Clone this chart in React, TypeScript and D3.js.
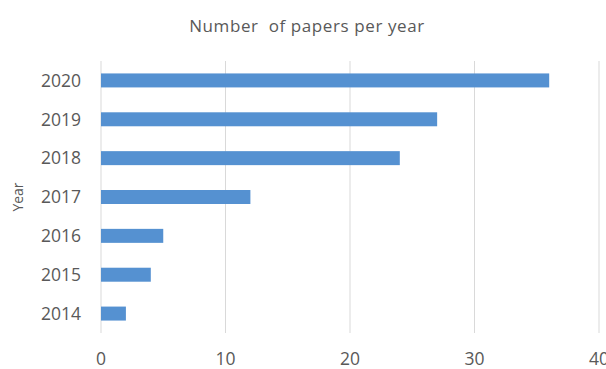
import React from "react";
import * as d3 from "d3";

const years = ["2020", "2019", "2018", "2017", "2016", "2015", "2014"];
const papers = [36, 27, 24, 12, 5, 4, 2];
const xTicks = [0, 10, 20, 30, 40];

const W = 606;
const H = 369;
const M = { top: 61, right: 7, bottom: 36, left: 101 };

export default function App() {
  const x = d3.scaleLinear().domain([0, 40]).range([M.left, W - M.right]);
  const y = d3
    .scaleBand<string>()
    .domain(years)
    .range([M.top, H - M.bottom])
    .paddingInner(0.64)
    .paddingOuter(0.32);
  const font = "'Open Sans', 'Liberation Sans', sans-serif";
  const txt = "#595959";
  return (
    <svg
      width={W}
      height={H}
      style={{ position: "absolute", left: 0, top: 0, background: "#fff" }}
      fontFamily={font}
    >
      <text
        x={307}
        y={32}
        textAnchor="middle"
        fontSize={17}
        letterSpacing={0.6}
        fill={txt}
      >
        {"Number\u00a0 of papers per year"}
      </text>
      {xTicks.map((t) => (
        <g key={t}>
          <line
            x1={x(t)}
            x2={x(t)}
            y1={M.top}
            y2={H - M.bottom}
            stroke="#d9d9d9"
            strokeWidth={1}
          />
          <text
            x={x(t)}
            y={365}
            textAnchor="middle"
            fontSize={17.5}
            fill={txt}
          >
            {t}
          </text>
        </g>
      ))}
      {years.map((yr, i) => (
        <g key={yr}>
          <rect
            x={x(0)}
            y={y(yr)!}
            width={x(papers[i]) - x(0)}
            height={y.bandwidth()}
            fill="#5591d1"
          />
          <text
            x={81}
            y={y(yr)! + y.bandwidth() / 2}
            dy="0.36em"
            textAnchor="end"
            fontSize={17.5}
            fill={txt}
          >
            {yr}
          </text>
        </g>
      ))}
      <text
        transform={`translate(23,${(M.top + H - M.bottom) / 2}) rotate(-90)`}
        textAnchor="middle"
        fontSize={14}
        fill={txt}
      >
        Year
      </text>
    </svg>
  );
}
